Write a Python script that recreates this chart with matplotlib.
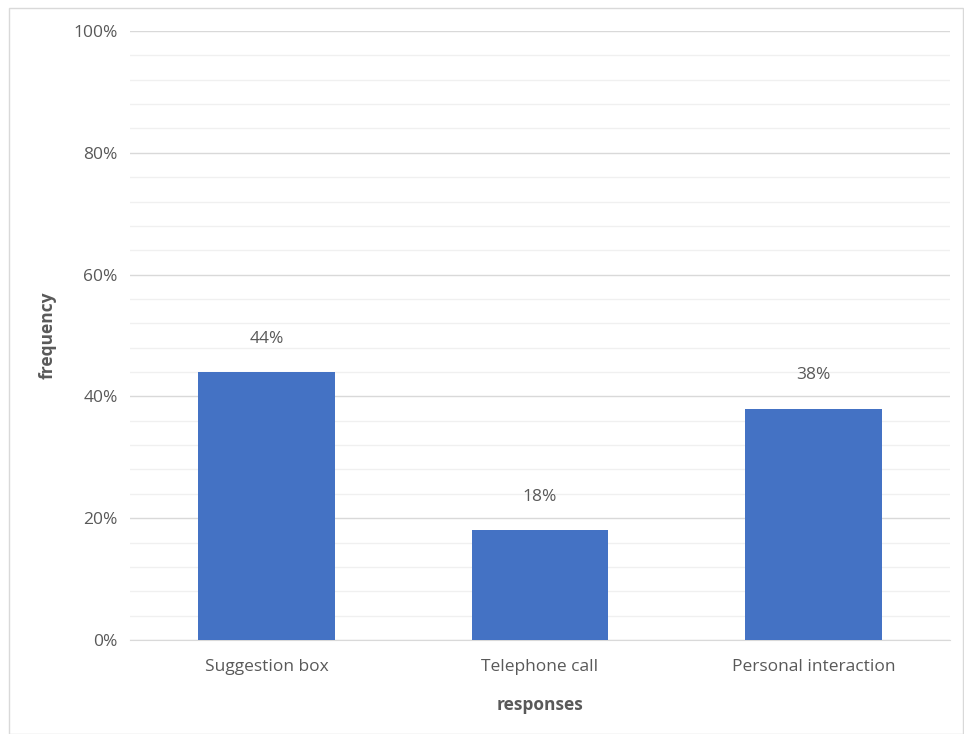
import matplotlib
matplotlib.use("Agg")
import matplotlib.pyplot as plt
from matplotlib.patches import Rectangle
from matplotlib.ticker import MultipleLocator, FuncFormatter

categories = ["Suggestion box", "Telephone call", "Personal interaction"]
values = [44, 18, 38]
y_ticks = [0, 20, 40, 60, 80, 100]

plt.rcParams['font.family'] = ['Open Sans', 'DejaVu Sans']
text_color = "#595959"
bar_color = "#4472C4"

fig = plt.figure(figsize=(9.64, 7.34), dpi=100)
fig.patches.append(Rectangle((9 / 964, 0), 954 / 964, 726 / 734, transform=fig.transFigure,
                             fill=False, edgecolor="#d9d9d9", linewidth=1.0))

ax = fig.add_axes([130 / 964, 94 / 734, 820 / 964, 609 / 734])
x = list(range(len(categories)))
ax.bar(x, values, width=0.5, color=bar_color, zorder=3)
ax.set_xlim(-0.5, len(categories) - 0.5)
ax.set_ylim(0, 100)

ax.yaxis.set_minor_locator(MultipleLocator(4))
ax.set_yticks(y_ticks)
ax.yaxis.set_major_formatter(FuncFormatter(lambda v, p: f"{v:.0f}%"))
ax.grid(axis="y", which="major", color="#d9d9d9", linewidth=1.0, zorder=0)
ax.grid(axis="y", which="minor", color="#f0f0f0", linewidth=1.0, zorder=0)
ax.tick_params(axis="y", which="both", length=0, pad=9, labelsize=12.5, labelcolor=text_color)
ax.tick_params(axis="x", length=0, pad=14, labelsize=12.5, labelcolor=text_color)
ax.set_xticks(x)
ax.set_xticklabels(categories)

for s in ["top", "right", "left"]:
    ax.spines[s].set_visible(False)
ax.spines["bottom"].set_color("#d9d9d9")

for xi, v in zip(x, values):
    ax.annotate(f"{v}%", (xi, v), xytext=(0, 24), textcoords="offset points",
                ha="center", va="center", fontsize=12.5, color=text_color)

ax.set_ylabel("frequency", fontsize=12.5, fontweight="bold", color=text_color, labelpad=12)
ax.set_xlabel("responses", fontsize=12.5, fontweight="bold", color=text_color, labelpad=15)

fig.savefig("out.png", dpi=100)
